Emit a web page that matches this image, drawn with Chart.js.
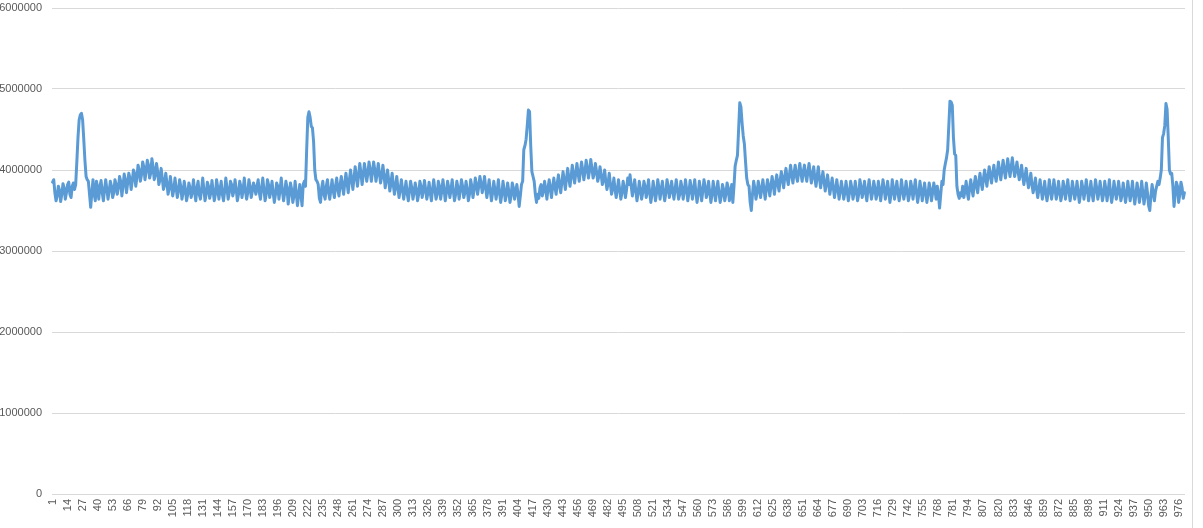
<!DOCTYPE html>
<html>
<head>
<meta charset="utf-8">
<script src="https://cdn.jsdelivr.net/npm/chart.js@4/dist/chart.umd.min.js"></script>
<style>
  html, body { margin: 0; padding: 0; background: #ffffff; }
  canvas { display: block; }
</style>
</head>
<body>
<canvas id="c" width="1203" height="528"></canvas>
<script>
// ---- data ----
const values = [
3850000,3880000,3720000,3620000,3680000,3800000,3750000,3610000,3700000,3830000,
3780000,3640000,3720000,3820000,3850000,3700000,3660000,3800000,3840000,3760000,
3820000,4100000,4400000,4620000,4680000,4700000,4620000,4380000,4120000,3920000,
3880000,3860000,3700000,3540000,3720000,3880000,3700000,3620000,3860000,3780000,
3640000,3800000,3870000,3720000,3620000,3760000,3880000,3760000,3640000,3740000,
3860000,3800000,3660000,3720000,3880000,3820000,3700000,3780000,3920000,3860000,
3680000,3800000,3950000,3880000,3720000,3840000,3960000,3900000,3760000,3860000,
4000000,3960000,3800000,3900000,4060000,4000000,3860000,3940000,4100000,4040000,
3880000,3980000,4120000,4060000,3900000,3960000,4140000,4040000,3880000,3940000,
4080000,3980000,3820000,3880000,4020000,3900000,3760000,3820000,3960000,3840000,
3700000,3780000,3920000,3800000,3680000,3760000,3900000,3780000,3660000,3740000,
3880000,3800000,3640000,3720000,3860000,3760000,3620000,3700000,3840000,3780000,
3660000,3740000,3880000,3720000,3620000,3780000,3860000,3700000,3640000,3760000,
3900000,3760000,3620000,3700000,3850000,3800000,3650000,3720000,3870000,3740000,
3620000,3700000,3880000,3780000,3640000,3760000,3860000,3700000,3620000,3740000,
3900000,3780000,3640000,3720000,3860000,3820000,3680000,3740000,3880000,3760000,
3620000,3700000,3860000,3800000,3660000,3760000,3900000,3740000,3640000,3720000,
3880000,3800000,3660000,3740000,3840000,3780000,3700000,3800000,3880000,3720000,
3640000,3780000,3900000,3760000,3620000,3700000,3880000,3820000,3660000,3740000,
3860000,3720000,3600000,3700000,3840000,3800000,3640000,3760000,3900000,3740000,
3620000,3720000,3860000,3780000,3580000,3700000,3840000,3760000,3600000,3680000,
3860000,3720000,3560000,3680000,3820000,3700000,3560000,3820000,3860000,3800000,
4250000,4650000,4720000,4650000,4540000,4520000,4350000,4000000,3880000,3860000,
3820000,3650000,3600000,3780000,3860000,3700000,3640000,3800000,3880000,3720000,
3640000,3760000,3880000,3740000,3660000,3800000,3900000,3760000,3680000,3820000,
3920000,3800000,3700000,3840000,3960000,3840000,3720000,3880000,4000000,3880000,
3760000,3900000,4040000,3920000,3800000,3940000,4080000,3960000,3820000,3940000,
4080000,3980000,3860000,3960000,4100000,4000000,3860000,3980000,4100000,4000000,
3860000,3960000,4080000,3960000,3840000,3920000,4060000,3940000,3780000,3880000,
4000000,3880000,3740000,3840000,3960000,3820000,3700000,3800000,3920000,3780000,
3660000,3760000,3880000,3760000,3640000,3740000,3860000,3720000,3620000,3740000,
3860000,3780000,3640000,3720000,3840000,3760000,3620000,3700000,3860000,3800000,
3660000,3740000,3870000,3760000,3640000,3720000,3850000,3720000,3620000,3760000,
3880000,3760000,3640000,3700000,3860000,3800000,3640000,3740000,3880000,3760000,
3620000,3720000,3860000,3780000,3660000,3760000,3880000,3740000,3620000,3700000,
3860000,3780000,3640000,3740000,3880000,3800000,3660000,3720000,3860000,3760000,
3620000,3700000,3880000,3800000,3660000,3760000,3900000,3820000,3700000,3800000,
3920000,3840000,3720000,3800000,3920000,3780000,3660000,3760000,3880000,3740000,
3620000,3720000,3860000,3760000,3640000,3740000,3880000,3720000,3600000,3700000,
3860000,3760000,3620000,3700000,3840000,3740000,3600000,3680000,3840000,3780000,
3640000,3720000,3820000,3700000,3550000,3680000,3820000,3860000,4250000,4300000,
4380000,4550000,4740000,4720000,4300000,3980000,3920000,3860000,3700000,3600000,
3700000,3650000,3780000,3820000,3680000,3740000,3860000,3760000,3640000,3780000,
3880000,3760000,3660000,3800000,3900000,3780000,3700000,3840000,3940000,3800000,
3720000,3860000,3980000,3860000,3760000,3900000,4020000,3900000,3800000,3920000,
4060000,3940000,3840000,3960000,4080000,3960000,3860000,3980000,4100000,4000000,
3880000,3980000,4120000,4020000,3900000,4000000,4130000,4020000,3900000,3960000,
4080000,3980000,3860000,3920000,4040000,3940000,3820000,3880000,4000000,3860000,
3760000,3840000,3960000,3820000,3700000,3780000,3900000,3760000,3660000,3760000,
3880000,3760000,3640000,3720000,3860000,3780000,3660000,3760000,3900000,3820000,
3940000,3800000,3680000,3780000,3880000,3740000,3620000,3720000,3860000,3760000,
3640000,3720000,3860000,3800000,3660000,3740000,3880000,3720000,3600000,3700000,
3860000,3760000,3620000,3720000,3880000,3780000,3640000,3760000,3860000,3720000,
3620000,3720000,3880000,3800000,3660000,3740000,3860000,3740000,3640000,3760000,
3880000,3760000,3640000,3700000,3860000,3780000,3640000,3740000,3880000,3760000,
3620000,3720000,3870000,3780000,3640000,3760000,3880000,3720000,3600000,3700000,
3860000,3760000,3620000,3740000,3880000,3800000,3660000,3720000,3860000,3720000,
3600000,3700000,3860000,3740000,3620000,3760000,3860000,3720000,3600000,3680000,
3820000,3760000,3620000,3700000,3840000,3780000,3620000,3700000,3820000,3600000,
3800000,4050000,4120000,4180000,4500000,4830000,4780000,4580000,4420000,4320000,
4100000,3900000,3820000,3800000,3600000,3500000,3700000,3860000,3780000,3640000,
3720000,3860000,3780000,3660000,3760000,3880000,3760000,3640000,3760000,3880000,
3800000,3680000,3800000,3920000,3820000,3700000,3840000,3940000,3820000,3740000,
3880000,3980000,3880000,3780000,3920000,4020000,3900000,3820000,3940000,4060000,
3940000,3840000,3960000,4060000,3920000,3860000,3980000,4080000,3960000,3860000,
3980000,4060000,3940000,3860000,3980000,4080000,3960000,3840000,3940000,4040000,
3900000,3800000,3920000,4040000,3900000,3780000,3880000,3980000,3860000,3740000,
3840000,3940000,3820000,3700000,3800000,3900000,3780000,3660000,3760000,3880000,
3760000,3640000,3740000,3860000,3760000,3640000,3720000,3860000,3740000,3620000,
3720000,3860000,3780000,3640000,3720000,3860000,3740000,3620000,3700000,3880000,
3800000,3660000,3740000,3860000,3720000,3620000,3760000,3880000,3760000,3640000,
3720000,3860000,3780000,3640000,3700000,3860000,3760000,3620000,3740000,3880000,
3780000,3640000,3720000,3860000,3740000,3600000,3700000,3880000,3780000,3640000,
3740000,3860000,3720000,3620000,3720000,3880000,3760000,3640000,3720000,3860000,
3740000,3620000,3700000,3860000,3780000,3640000,3760000,3880000,3720000,3600000,
3700000,3860000,3760000,3620000,3720000,3840000,3720000,3600000,3700000,3840000,
3760000,3620000,3720000,3840000,3760000,3640000,3800000,3700000,3530000,3700000,
3860000,3820000,4000000,4080000,4150000,4250000,4550000,4850000,4840000,4800000,
4400000,4200000,4180000,3800000,3700000,3650000,3720000,3680000,3800000,3660000,
3740000,3860000,3720000,3640000,3780000,3880000,3760000,3680000,3820000,3920000,
3800000,3720000,3860000,3960000,3840000,3760000,3900000,4000000,3880000,3800000,
3940000,4040000,3920000,3840000,3960000,4060000,3940000,3860000,3980000,4100000,
3980000,3880000,4000000,4120000,4000000,3900000,4020000,4140000,4020000,3920000,
4040000,4150000,4020000,3920000,4000000,4100000,3980000,3880000,3960000,4060000,
3920000,3820000,3920000,4020000,3880000,3780000,3860000,3960000,3820000,3720000,
3800000,3900000,3760000,3660000,3760000,3880000,3760000,3640000,3740000,3860000,
3720000,3620000,3720000,3880000,3760000,3640000,3740000,3880000,3760000,3640000,
3720000,3860000,3740000,3620000,3700000,3860000,3780000,3640000,3760000,3880000,
3740000,3620000,3720000,3860000,3760000,3640000,3720000,3860000,3720000,3600000,
3700000,3860000,3780000,3640000,3740000,3880000,3760000,3620000,3720000,3860000,
3720000,3620000,3740000,3880000,3780000,3640000,3720000,3860000,3740000,3620000,
3700000,3860000,3760000,3620000,3740000,3880000,3720000,3600000,3700000,3860000,
3760000,3640000,3720000,3860000,3740000,3620000,3700000,3840000,3720000,3600000,
3700000,3860000,3740000,3620000,3720000,3860000,3700000,3580000,3700000,3840000,
3740000,3600000,3700000,3860000,3720000,3580000,3680000,3840000,3720000,3560000,
3500000,3680000,3820000,3720000,3620000,3740000,3800000,3860000,3820000,3900000,
4000000,4400000,4450000,4550000,4820000,4750000,4400000,4000000,3950000,3960000,
3800000,3550000,3700000,3850000,3800000,3600000,3700000,3850000,3780000,3650000,3720000
];
const categories = values.map((v, i) => String(i + 1));
const labelEvery = 13;
const yTicks = { min: 0, max: 6000000, step: 1000000 };

const textColor = '#595959';
const gridColor = '#d9d9d9';
const lineColor = '#5b9bd5';

const frame = {
  id: 'frame',
  afterDraw(chart) {
    const ctx = chart.ctx;
    ctx.save();
    ctx.strokeStyle = '#d9d9d9';
    ctx.lineWidth = 1;
    ctx.beginPath();
    ctx.moveTo(1192.5, 0);
    ctx.lineTo(1192.5, 528);
    ctx.stroke();
    ctx.restore();
  }
};

new Chart(document.getElementById('c'), {
  type: 'line',
  data: {
    labels: categories,
    datasets: [{
      data: values,
      borderColor: lineColor,
      borderWidth: 3,
      borderJoinStyle: 'round',
      borderCapStyle: 'round',
      pointRadius: 0,
      pointHoverRadius: 0,
      tension: 0,
      fill: false
    }]
  },
  options: {
    responsive: false,
    animation: false,
    events: [],
    layout: { padding: { top: 8, right: 18, bottom: 0, left: 0 } },
    plugins: { legend: { display: false }, tooltip: { enabled: false } },
    scales: {
      x: {
        type: 'category',
        offset: true,
        grid: { display: false, drawTicks: false },
        border: { display: false },
        ticks: {
          autoSkip: false,
          minRotation: 90,
          maxRotation: 90,
          padding: 5,
          color: textColor,
          font: { family: 'Liberation Sans, Arial, sans-serif', size: 11 },
          callback: function (val, idx) {
            return idx % labelEvery === 0 ? this.getLabelForValue(val) : null;
          }
        },
        afterFit(scale) { scale.height = 34; scale.paddingLeft = 0; scale.paddingRight = 0; }
      },
      y: {
        min: yTicks.min,
        max: yTicks.max,
        grid: { color: gridColor, lineWidth: 1, drawTicks: false },
        border: { display: false },
        ticks: {
          stepSize: yTicks.step,
          padding: 10,
          color: textColor,
          font: { family: 'Liberation Sans, Arial, sans-serif', size: 11 },
          callback: v => String(v)
        },
        afterFit(scale) { scale.width = 52; scale.paddingTop = 0; scale.paddingBottom = 0; }
      }
    }
  },
  plugins: [frame]
});
</script>
</body>
</html>
